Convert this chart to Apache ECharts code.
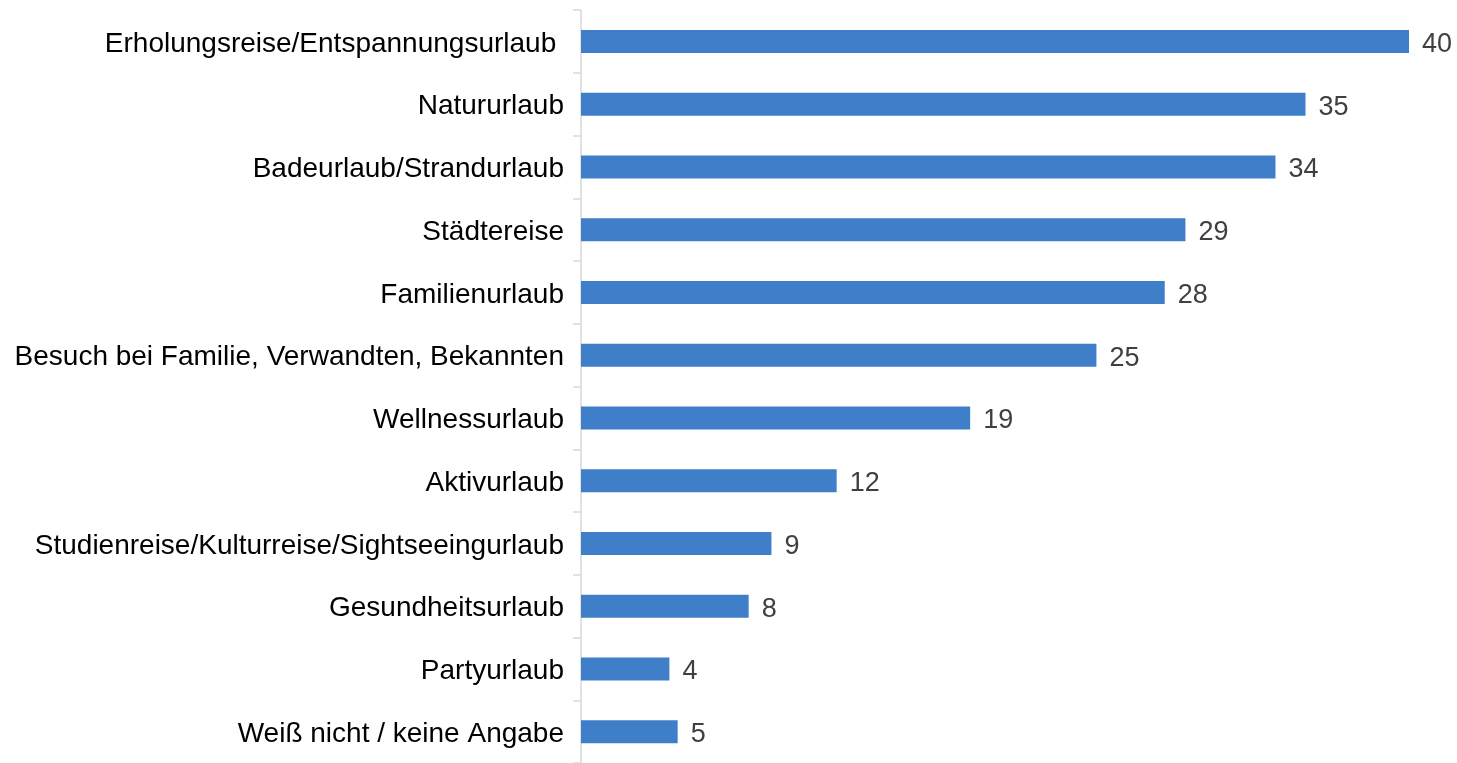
<!DOCTYPE html>
<html><head><meta charset="utf-8">
<script src="https://cdn.jsdelivr.net/npm/echarts@6/dist/echarts.min.js"></script>
<style>html,body{margin:0;padding:0;background:#fff}#c{width:1457px;height:763px}</style>
</head><body><div id="c"></div>
<script>
const categories = [
  "Erholungsreise/Entspannungsurlaub ",
  "Natururlaub",
  "Badeurlaub/Strandurlaub",
  "Städtereise",
  "Familienurlaub",
  "Besuch bei Familie, Verwandten, Bekannten",
  "Wellnessurlaub",
  "Aktivurlaub",
  "Studienreise/Kulturreise/Sightseeingurlaub",
  "Gesundheitsurlaub",
  "Partyurlaub",
  "Weiß nicht / keine Angabe"
];
// bar lengths (labels show rounded values)
const values = [40, 35, 33.55, 29.2, 28.2, 24.9, 18.8, 12.35, 9.2, 8.1, 4.27, 4.67];

const chart = echarts.init(document.getElementById('c'));
chart.setOption({
  animation: false,
  grid: { left: 581, top: 10, width: 828, height: 756, containLabel: false },
  xAxis: { type: 'value', min: 0, max: 40, show: false },
  yAxis: {
    type: 'category', data: categories, inverse: true,
    axisLine: { show: true, lineStyle: { color: '#d9d9d9', width: 1.5 } },
    axisTick: { show: true, length: 8, lineStyle: { color: '#d9d9d9', width: 1.5 } },
    axisLabel: { color: '#000', fontSize: 28, fontFamily: 'Liberation Sans, Arial, sans-serif', margin: 17,
      formatter: v => '{a|' + v + '}',
      rich: { a: { color: '#000', fontSize: 28, fontFamily: 'Liberation Sans, Arial, sans-serif', padding: [5, 0, 0, 0] } } }
  },
  series: [{
    type: 'bar', data: values, barWidth: 23,
    itemStyle: { color: '#3f7fca' },
    label: { show: true, position: 'right', distance: 13, color: '#404040', fontSize: 27,
      fontFamily: 'Liberation Sans, Arial, sans-serif', offset: [0, 3],
      formatter: p => String(Math.round(p.value)) }
  }]
});
</script></body></html>
